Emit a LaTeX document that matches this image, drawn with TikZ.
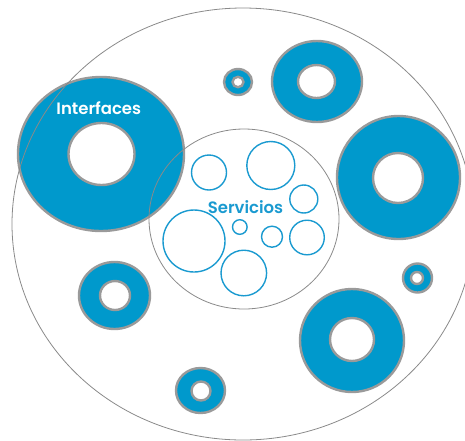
\documentclass[tikz,border=0pt]{standalone}
\usepackage{fontspec}
\setmainfont{Poppins}[BoldFont={Poppins SemiBold}]
\definecolor{donutblue}{HTML}{0099CC}
\definecolor{rimgray}{HTML}{9A9A9A}
\definecolor{linegray}{HTML}{8A8A8A}
\definecolor{svcblue}{HTML}{1A9AD0}
\begin{document}
\begin{tikzpicture}[x=1pt,y=-1pt,
  donut/.style={fill=donutblue,draw=rimgray,line width=2.4pt},
  hole/.style={fill=white,draw=rimgray,line width=2.4pt},
  thin/.style={draw=linegray,line width=0.8pt},
  svc/.style={draw=svcblue,line width=1.4pt}]
\useasboundingbox (0,0) rectangle (465,440);
\clip (0,0) rectangle (465,440);
% donuts
\foreach \cx/\cy/\rx/\ry/\hx/\hy/\hrx/\hry in {
  101/154/83/77/101.5/154/33/31,
  317/81.5/45/40.5/316.5/81.5/18.5/16.5,
  238/82/14/13/238/82/5.5/5.2,
  398.5/177.5/61.5/61.5/398/178/25/25,
  114.5/295.5/35.5/33.5/115/295.5/15/14.5,
  417.5/278/14.5/14.5/417/278/6/6,
  352/340.5/52/51.5/352/339.5/22/21.5,
  200.5/390.5/24.5/22.5/201/391/9.5/9.5}{
  \draw[donut] (\cx,\cy) ellipse [x radius=\rx, y radius=\ry];
  \draw[hole] (\hx,\hy) ellipse [x radius=\hrx, y radius=\hry];
}
% thin outlines
\draw[thin] (243,224) ellipse [x radius=231, y radius=216];
\draw[thin] (244,219) ellipse [x radius=95, y radius=90];
% service circles
\foreach \cx/\cy/\r in {209/172.5/17.5, 270.8/165.5/24, 303.8/199/14,
  194/241/31, 239.8/227/7.3, 272/236.7/10.5, 307/237.5/17.3, 243.8/273/22.8}{
  \draw[svc] (\cx,\cy) circle [radius=\r];
}
\node[text=white,font=\fontsize{16.5}{20}\selectfont\bfseries] (interfaces) at (98.8,107.7) {Interfaces};
\node[text=svcblue,font=\fontsize{16.5}{20}\selectfont\bfseries] (servicios) at (245.5,206.7) {Servicios};
\end{tikzpicture}
\end{document}
